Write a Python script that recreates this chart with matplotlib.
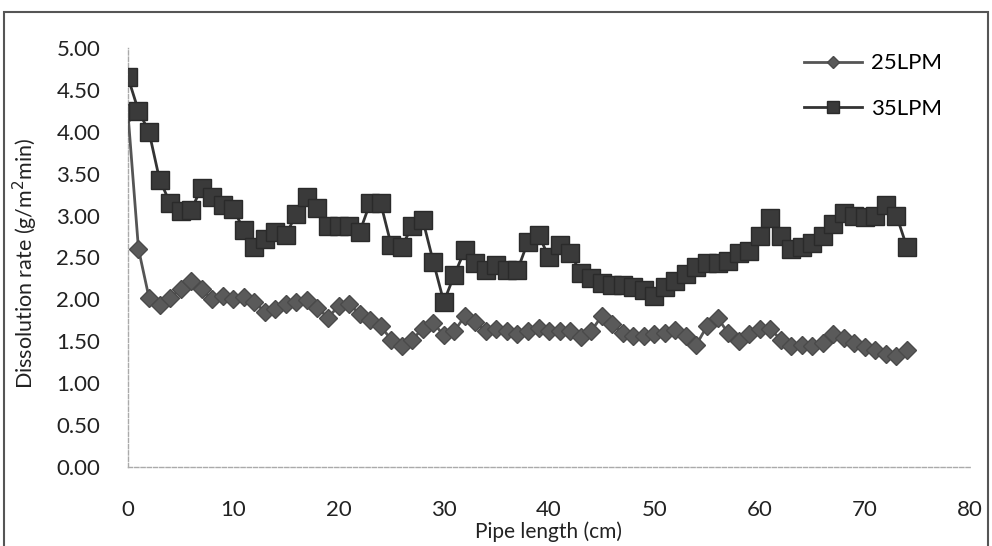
import matplotlib
matplotlib.use("Agg")
import matplotlib.pyplot as plt
from matplotlib.patches import Rectangle

plt.rcParams['font.family'] = ['Lato', 'DejaVu Sans']

# pipe length positions (cm)
pipe_length = list(range(0, 75))

# dissolution rate at 25 LPM (g/m2 min)
rate_25lpm = [4.22, 2.60, 2.02, 1.93, 2.02, 2.12, 2.22, 2.12, 2.00, 2.04,
              2.00, 2.03, 1.97, 1.85, 1.88, 1.95, 1.97, 1.99, 1.90, 1.78,
              1.92, 1.94, 1.83, 1.75, 1.68, 1.52, 1.44, 1.52, 1.65, 1.72,
              1.57, 1.62, 1.80, 1.73, 1.62, 1.64, 1.62, 1.58, 1.62, 1.66,
              1.62, 1.62, 1.62, 1.55, 1.62, 1.80, 1.70, 1.60, 1.56, 1.56,
              1.58, 1.60, 1.63, 1.56, 1.46, 1.68, 1.78, 1.60, 1.50, 1.58,
              1.65, 1.65, 1.52, 1.44, 1.46, 1.44, 1.48, 1.58, 1.54, 1.48,
              1.43, 1.40, 1.35, 1.32, 1.40]

# dissolution rate at 35 LPM (g/m2 min)
rate_35lpm = [4.65, 4.25, 4.00, 3.43, 3.15, 3.05, 3.07, 3.33, 3.22, 3.13,
              3.08, 2.83, 2.62, 2.72, 2.80, 2.77, 3.02, 3.22, 3.09, 2.87,
              2.87, 2.87, 2.80, 3.15, 3.15, 2.65, 2.63, 2.87, 2.95, 2.45,
              1.97, 2.29, 2.59, 2.43, 2.35, 2.41, 2.35, 2.35, 2.69, 2.77,
              2.50, 2.65, 2.55, 2.32, 2.25, 2.19, 2.17, 2.17, 2.15, 2.11,
              2.04, 2.15, 2.22, 2.30, 2.38, 2.43, 2.43, 2.46, 2.55, 2.58,
              2.75, 2.97, 2.75, 2.60, 2.62, 2.67, 2.75, 2.90, 3.03, 3.00,
              2.98, 3.00, 3.13, 3.00, 2.62]

x_ticks = [0, 10, 20, 30, 40, 50, 60, 70, 80]
y_ticks = [0.0, 0.5, 1.0, 1.5, 2.0, 2.5, 3.0, 3.5, 4.0, 4.5, 5.0]

fig = plt.figure(figsize=(9.92, 5.46), dpi=100)
ax = fig.add_axes([0.129, 0.145, 0.849, 0.767])

ax.plot(pipe_length, rate_25lpm, color='#555555', lw=2.0, marker='D',
        markersize=9, markerfacecolor='#5a5a5a', markeredgecolor='#4a4a4a',
        label='25LPM', zorder=3)
ax.plot(pipe_length, rate_35lpm, color='#333333', lw=2.0, marker='s',
        markersize=12.5, markerfacecolor='#3a3a3a', markeredgecolor='#2a2a2a',
        label='35LPM', zorder=4)

ax.set_xlim(0, 80)
ax.set_ylim(0, 5)
ax.set_xticks(x_ticks)
ax.set_yticks(y_ticks)
ax.set_yticklabels([f'{v:.2f}' for v in y_ticks])
ax.tick_params(axis='both', length=0, labelsize=16, colors='#222222')
ax.tick_params(axis='y', pad=20)
ax.tick_params(axis='x', pad=24)

for side in ['top', 'right']:
    ax.spines[side].set_visible(False)
for side in ['left', 'bottom']:
    ax.spines[side].set_color('#aaaaaa')
    ax.spines[side].set_linestyle((0, (3, 1.5)))
    ax.spines[side].set_linewidth(1.0)

ax.set_xlabel('Pipe length (cm)', fontsize=15, color='#222222')
ax.set_ylabel('Dissolution rate (g/m$^2$min)', fontsize=15.5, color='#222222')
ax.xaxis.set_label_coords(0.499, -0.131)
ax.yaxis.set_label_coords(-0.105, 0.487)

leg = ax.legend(loc='upper right', bbox_to_anchor=(0.99, 1.035), frameon=False,
                fontsize=16, handlelength=2.6, markerscale=0.7,
                labelspacing=1.15, handletextpad=0.4)

# outer frame around the whole chart
fig.patches.append(Rectangle((0.004, -0.01), 0.992, 0.988, transform=fig.transFigure,
                             fill=False, edgecolor='#555555', lw=1.5))

fig.savefig('out.png', dpi=100)
